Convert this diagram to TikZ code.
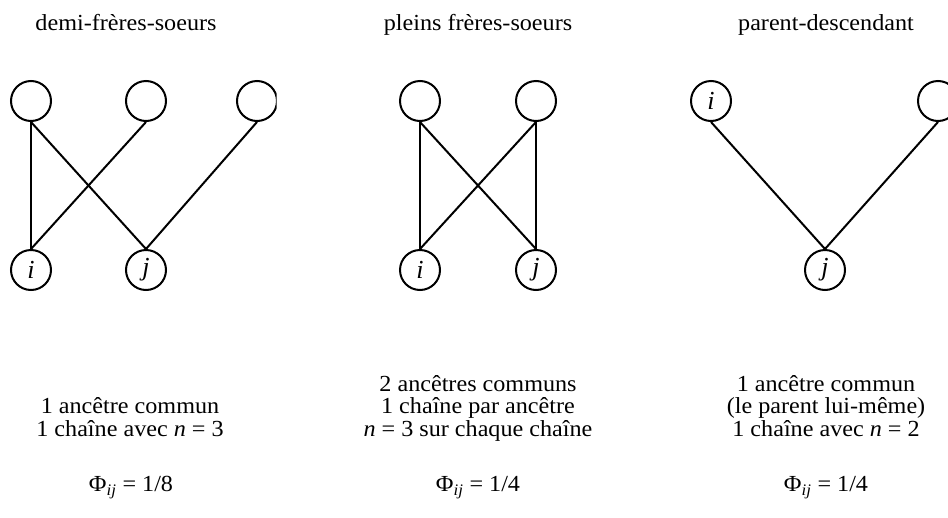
\documentclass[tikz,border=0pt]{standalone}
\usepackage{fontspec}
\usepackage{graphicx}
\setmainfont{Liberation Serif}
% body text: 23pt type, very slightly widened
\newcommand{\widetext}[1]{\scalebox{1.05}[1]{#1}}
\tikzset{
  person/.style={circle, draw, line width=2pt, minimum size=40pt, inner sep=0pt,
                 font=\fontsize{26}{26}\selectfont\itshape},
  link/.style={line width=2pt},
  txt/.style={anchor=base, inner sep=0pt, font=\fontsize{23}{23}\selectfont},
}
\begin{document}
\begin{tikzpicture}[x=1pt, y=-1pt]
  \useasboundingbox (0,0) rectangle (948,517);

  % column headings
  \node[txt] (t1) at (126,30) {\widetext{demi-frères-soeurs}};
  \node[txt] (t2) at (478,30) {\widetext{pleins frères-soeurs}};
  \node[txt] (t3) at (826,30) {\widetext{parent-descendant}};

  % half siblings: the third parent circle is cut on its right side
  \begin{scope}
    \clip (0,60) rectangle (276.5,320);
    \node[person] (h1) at (31,101) {};
    \node[person] (h2) at (146,101) {};
    \node[person] (h3) at (257,101) {};
  \end{scope}
  \node[person] (hi) at (31,270) {i};
  \node[person] (hj) at (146,270) {j};
  \draw[link] (h1.south) -- (hi.north);
  \draw[link] (h1.south) -- (hj.north);
  \draw[link] (h2.south) -- (hi.north);
  \draw[link] (h3.south) -- (hj.north);

  % full siblings
  \node[person] (f1) at (420,101) {};
  \node[person] (f2) at (536,101) {};
  \node[person] (fi) at (420,270) {i};
  \node[person] (fj) at (536,270) {j};
  \draw[link] (f1.south) -- (fi.north);
  \draw[link] (f1.south) -- (fj.north);
  \draw[link] (f2.south) -- (fi.north);
  \draw[link] (f2.south) -- (fj.north);

  % parent and offspring: the right circle runs off the page
  \node[person] (pi) at (711,101) {i};
  \node[person] (p2) at (938,101) {};
  \node[person] (pj) at (825,270) {j};
  \draw[link] (pi.south) -- (pj.north);
  \draw[link] (p2.south) -- (pj.north);

  % explanations
  \node[txt] (a1) at (130,413.5) {\widetext{1 ancêtre commun}};
  \node[txt] (a2) at (130,436) {\widetext{1 chaîne avec \textit{n} = 3}};
  \node[txt] (b1) at (478,391) {\widetext{2 ancêtres communs}};
  \node[txt] (b2) at (478,413.5) {\widetext{1 chaîne par ancêtre}};
  \node[txt] (b3) at (478,436) {\widetext{\textit{n} = 3 sur chaque chaîne}};
  \node[txt] (c1) at (826,391) {\widetext{1 ancêtre commun}};
  \node[txt] (c2) at (826,413.5) {\widetext{(le parent lui-même)}};
  \node[txt] (c3) at (826,436) {\widetext{1 chaîne avec \textit{n} = 2}};

  % kinship coefficients
  \node[txt] (k1) at (131,491.5) {\widetext{Φ\textsubscript{\textit{ij}} = 1/8}};
  \node[txt] (k2) at (478,491.5) {\widetext{Φ\textsubscript{\textit{ij}} = 1/4}};
  \node[txt] (k3) at (826,491.5) {\widetext{Φ\textsubscript{\textit{ij}} = 1/4}};
\end{tikzpicture}
\end{document}
